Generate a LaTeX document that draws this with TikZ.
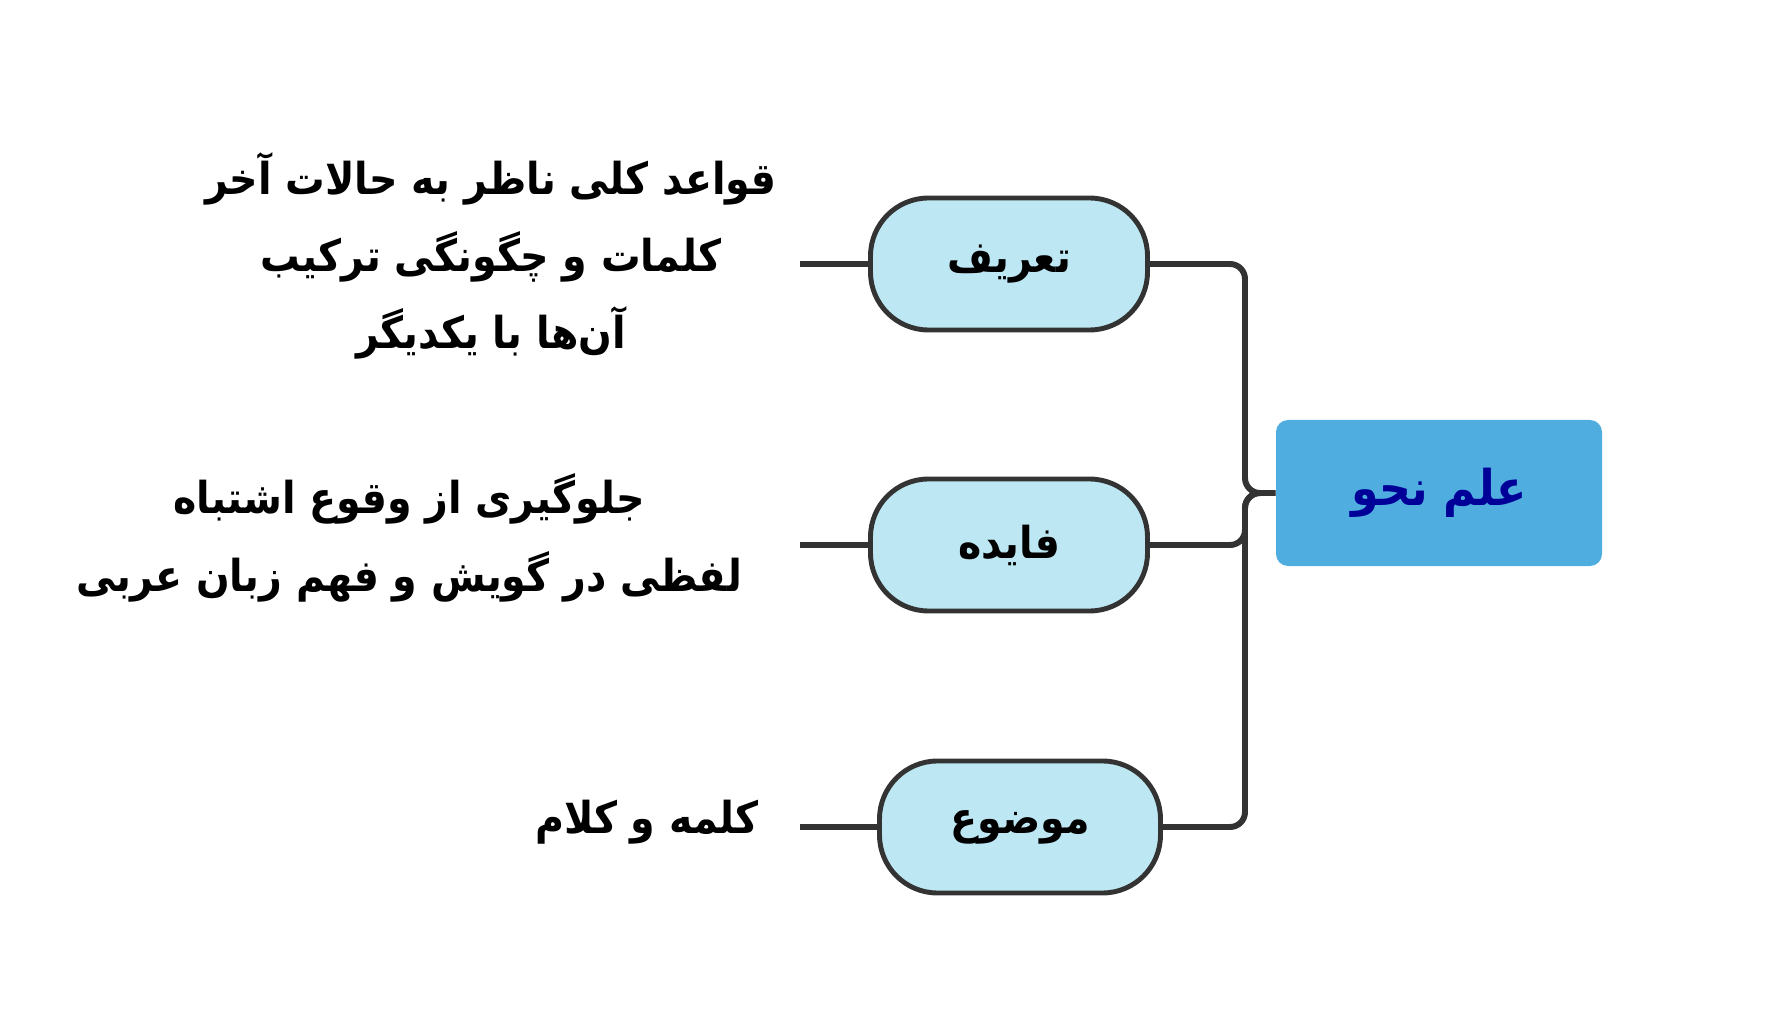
\documentclass[tikz,border=0pt]{standalone}
\usepackage{fontspec}
\usepackage{xcolor}
\usepackage{tikz}
\TeXXeTstate=1
\newfontfamily\arabicfont[Script=Arabic]{DejaVu Sans Condensed}
\newcommand{\fa}[1]{{\arabicfont\bfseries\beginR #1\endR}}
\definecolor{nodefill}{HTML}{BDE8F3}
\definecolor{rootfill}{HTML}{4FAEDF}
\definecolor{rootink}{HTML}{000099}
\definecolor{wire}{HTML}{333333}

\begin{document}
\begin{tikzpicture}[
  Topic/.style={draw=wire, line width=1.4pt, fill=nodefill, rounded corners=0.58cm,
    minimum width=2.77cm, minimum height=1.32cm, inner sep=0pt, font=\fontsize{12.5}{15}\selectfont},
  Root/.style={fill=rootfill, rounded corners=0.12cm, minimum width=3.26cm, minimum height=1.46cm,
    inner sep=0pt, text=rootink, font=\fontsize{14}{16}\selectfont},
  Note/.style={align=center, inner sep=0pt, font=\fontsize{12.5}{22}\selectfont},
  Link/.style={wire, line width=1.7pt, rounded corners=0.15cm}]
\useasboundingbox (0,0) rectangle (17.92,10.24);
\node[Root] (Root) at (14.39,5.31) {\fa{علم نحو}};
\node[Topic] (Def) at (10.09,7.60) {\fa{تعریف}};
\node[Topic] (Use) at (10.09,4.79) {\fa{فایده}};
\node[Topic, minimum width=2.81cm] (Subj) at (10.20,1.97) {\fa{موضوع}};
\coordinate (Trunk) at (12.45,5.31);
\draw[Link] (Root.west) -- (Trunk) |- (Def.east);
\draw[Link] (Root.west) -- (Trunk) |- (Use.east);
\draw[Link] (Root.west) -- (Trunk) |- (Subj.east);
% notes on the left
\node[Note] (DefNote) at (4.91,7.68) {\fa{قواعد کلی ناظر به حالات آخر}\\\fa{کلمات و چگونگی ترکیب}\\\fa{آن^^^^200cها با یکدیگر}};
\node[Note] (UseNote) at (4.09,4.86) {\fa{جلوگیری از وقوع اشتباه}\\\fa{لفظی در گویش و فهم زبان عربی}};
\node[Note] (SubjNote) at (6.47,2.02) {\fa{کلمه و کلام}};
\coordinate (DefEnd) at (8.00,7.60);
\coordinate (UseEnd) at (8.00,4.79);
\coordinate (SubjEnd) at (8.00,1.97);
\draw[Link] (DefEnd) -- (Def.west);
\draw[Link] (UseEnd) -- (Use.west);
\draw[Link] (SubjEnd) -- (Subj.west);
\end{tikzpicture}
\end{document}
